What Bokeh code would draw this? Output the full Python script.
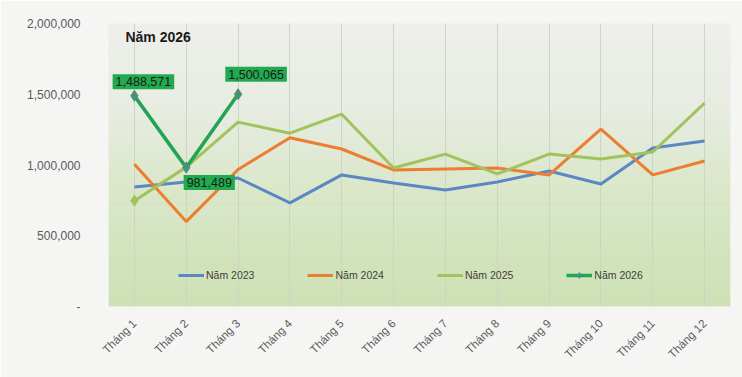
from bokeh.plotting import figure
from bokeh.models import (FactorRange, Range1d, FixedTicker, BoxAnnotation, Label,
                          Legend, LegendItem, NumeralTickFormatter, Grid)
from bokeh.embed import file_html
from bokeh.resources import INLINE
import math

# ---------------- data ----------------
months = ["Tháng 1", "Tháng 2", "Tháng 3", "Tháng 4", "Tháng 5", "Tháng 6",
          "Tháng 7", "Tháng 8", "Tháng 9", "Tháng 10", "Tháng 11", "Tháng 12"]
y2023 = [845000, 880000, 908000, 732000, 930000, 873000,
         824000, 880000, 958000, 866000, 1120000, 1169000]
y2024 = [1005000, 600000, 968000, 1192000, 1113000, 965000,
         972000, 979000, 930000, 1254000, 930000, 1028000]
y2025 = [748000, 985000, 1303000, 1225000, 1359000, 979000,
         1077000, 937000, 1077000, 1042000, 1092000, 1437000]
months2026 = ["Tháng 1", "Tháng 2", "Tháng 3"]
y2026 = [1488571, 981489, 1500065]
series_names = ["Năm 2023", "Năm 2024", "Năm 2025", "Năm 2026"]
y_ticks = [0, 500000, 1000000, 1500000, 2000000]
chart_title = "Năm 2026"

# ---------------- styling ----------------
FONT = "Liberation Sans"
C2023, C2024, C2025, C2026 = "#5b87c5", "#ed7d31", "#a0c35e", "#22a455"

def fx(m):
    # synthetic coordinate of a factor on the categorical axis
    return months.index(m) + 0.5

p = figure(width=742, height=377, x_range=FactorRange(*months, range_padding=0),
           y_range=Range1d(0, 2000000), output_backend="svg", toolbar_location=None,
           min_border_left=108, min_border_right=12, min_border_top=23, min_border_bottom=71)

p.border_fill_color = "#f5f6f4"
p.background_fill_color = "#e8ecdf"
p.outline_line_color = None

# vertical gradient in plot area (stacked bands)
stops = [(0.0, (238, 239, 236)), (0.3, (232, 236, 226)), (0.6, (217, 231, 199)), (1.0, (205, 224, 179))]
def grad(t):
    for (t0, c0), (t1, c1) in zip(stops[:-1], stops[1:]):
        if t0 <= t <= t1:
            f = (t - t0) / (t1 - t0)
            return "#%02x%02x%02x" % tuple(int(round(a + (b - a) * f)) for a, b in zip(c0, c1))
    return "#%02x%02x%02x" % stops[-1][1]
N = 40
top_v = 2000000
bands = []
for i in range(N):
    t = (i + 0.5) / N
    hi = top_v * (1 - i / N)
    lo = top_v * (1 - (i + 1) / N)
    bands.append(BoxAnnotation(top=hi, bottom=lo, fill_color=grad(t), fill_alpha=1,
                               line_color=None, level="underlay"))

# grid: draw after the bands
p.ygrid.grid_line_color = None
p.xgrid.grid_line_color = "#cdd4c6"
p.xgrid.grid_line_width = 1
grids = [r for r in p.center if isinstance(r, Grid)]
others = [r for r in p.center if not isinstance(r, Grid)]
p.center = others + bands + grids

# axes
for ax in (p.xaxis[0], p.yaxis[0]):
    ax.axis_line_color = None
    ax.major_tick_line_color = None
    ax.minor_tick_line_color = None
    ax.major_label_text_color = "#595959"
    ax.major_label_text_font = FONT
p.yaxis.ticker = FixedTicker(ticks=y_ticks)
p.yaxis.formatter = NumeralTickFormatter(format="0,0")
p.yaxis.major_label_overrides = {v: ("-" if v == 0 else f"{v:,}") for v in y_ticks}
p.yaxis.major_label_text_font_size = "12px"
p.yaxis.major_label_standoff = 22
p.xaxis.major_label_orientation = math.pi / 4
p.xaxis.major_label_text_font_size = "11.5px"
p.xaxis.major_label_standoff = 9

# lines
r23 = p.line(months, y2023, line_color=C2023, line_width=3)
r24 = p.line(months, y2024, line_color=C2024, line_width=3)
r25 = p.line(months, y2025, line_color=C2025, line_width=3)
r25m = p.scatter(months[:1], y2025[:1], marker="diamond", size=11, fill_color=C2025, line_color=C2025)
r26 = p.line(months2026, y2026, line_color=C2026, line_width=3.5)
r26m = p.scatter(months2026, y2026, marker="diamond", size=11, fill_color="#4f8f7a", line_color="#4f8f7a")

# data labels for 2026 (screen offsets, +y is up)
offsets = [(9, 14), (23, -15), (18, 20)]
for m, v, (dx, dy) in zip(months2026, y2026, offsets):
    p.add_layout(Label(x=fx(m), y=v, x_offset=dx, y_offset=dy, text=f"{v:,}",
                       text_align="center", text_baseline="middle",
                       text_font=FONT, text_font_size="12.5px", text_color="#1a1a1a",
                       background_fill_color="#22aa50", background_fill_alpha=1,
                       padding=3))

# title inside plot area
p.add_layout(Label(x=fx(months[0]), y=top_v, x_offset=-9, y_offset=-13, text=chart_title,
                   text_align="left", text_baseline="middle", text_font=FONT,
                   text_font_size="14px", text_font_style="bold", text_color="#1a1a1a"))

# legend
legend = Legend(items=[LegendItem(label=series_names[0], renderers=[r23]),
                       LegendItem(label=series_names[1], renderers=[r24]),
                       LegendItem(label=series_names[2], renderers=[r25]),
                       LegendItem(label=series_names[3], renderers=[r26, r26m])],
                orientation="horizontal", location=(70, 24), padding=0, margin=0,
                spacing=53, glyph_width=26, glyph_height=14, label_height=14,
                label_standoff=2, label_text_font=FONT, label_text_font_size="10.5px",
                label_text_color="#404040", background_fill_alpha=0, border_line_color=None)
p.add_layout(legend)

open("out.html", "w").write(file_html(p, INLINE))
